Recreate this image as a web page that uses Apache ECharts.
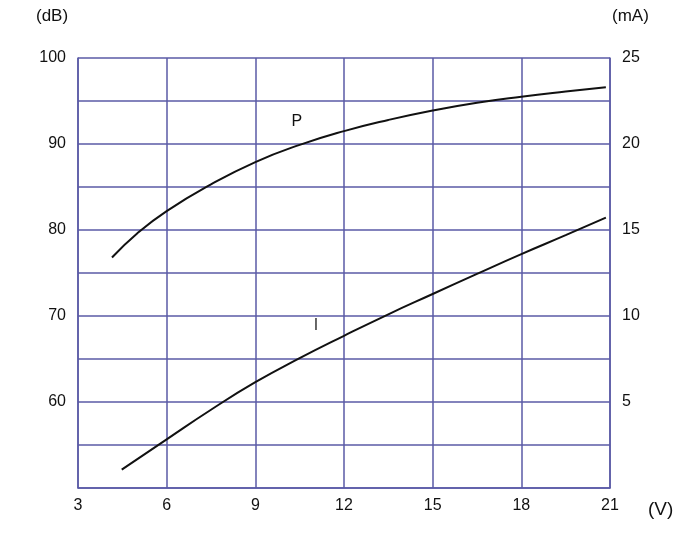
<!DOCTYPE html>
<html><head><meta charset="utf-8">
<script src="https://cdn.jsdelivr.net/npm/echarts@6/dist/echarts.min.js"></script>
<style>html,body{margin:0;padding:0;background:#fff}#c{width:695px;height:541px}</style>
</head><body><div id="c"></div>
<script>
// Voltage (V) ticks
const xTicks = [3, 6, 9, 12, 15, 18, 21];
const leftTickLabels = [60, 70, 80, 90, 100];   // dB
const rightTickLabels = [5, 10, 15, 20, 25];    // mA
// P curve: [V, dB]
const pCurve = [[4.15,76.8],[5,79.6],[6,82.2],[7.5,85.3],[9,87.9],[10.5,89.9],[12,91.5],[13.5,92.8],[15,93.9],[16.5,94.8],[18,95.5],[19.5,96.1],[20.86,96.6]];
// I curve: [V, mA]
const iCurve = [[4.48,1.07],[6,2.83],[7.5,4.55],[9,6.15],[10.5,7.55],[12,8.85],[13.5,10.1],[15,11.28],[16.5,12.45],[18,13.6],[19.5,14.7],[20.86,15.72]];

const gridColor = '#5a5aa6';
const font = 'Liberation Sans, Arial, sans-serif';
const chart = echarts.init(document.getElementById('c'));
chart.setOption({
  animation: false,
  backgroundColor: '#fff',
  grid: { left: 78, right: 85, top: 58, bottom: 53 },
  xAxis: {
    type: 'value', min: 3, max: 21, interval: 3,
    axisLine: { show: true, lineStyle: { color: gridColor, width: 1.5 } },
    axisTick: { show: false },
    splitLine: { show: true, lineStyle: { color: gridColor, width: 1.5 } },
    axisLabel: { color: '#111', fontSize: 16, fontFamily: font, margin: 10,
      formatter: v => xTicks.includes(v) ? String(v) : '' }
  },
  yAxis: [{
    type: 'value', min: 50, max: 100, interval: 5, position: 'left',
    axisLine: { show: true, lineStyle: { color: gridColor, width: 1.5 } },
    axisTick: { show: false },
    splitLine: { show: true, lineStyle: { color: gridColor, width: 1.5 } },
    axisLabel: { color: '#111', fontSize: 16, fontFamily: font, margin: 12,
      formatter: v => leftTickLabels.includes(v) ? String(v) : '' }
  }, {
    type: 'value', min: 0, max: 25, interval: 2.5, position: 'right',
    axisLine: { show: true, lineStyle: { color: gridColor, width: 1.5 } },
    axisTick: { show: false },
    splitLine: { show: false },
    axisLabel: { color: '#111', fontSize: 16, fontFamily: font, margin: 12,
      formatter: v => rightTickLabels.includes(v) ? String(v) : '' }
  }],
  graphic: [
    { type: 'text', left: 36, top: 8, style: { text: '(dB)', fontSize: 17, fontFamily: font, fill: '#111' } },
    { type: 'text', left: 612, top: 8, style: { text: '(mA)', fontSize: 17, fontFamily: font, fill: '#111' } },
    { type: 'text', left: 648, top: 500, style: { text: '(V)', fontSize: 19, fontFamily: font, fill: '#111' } }
  ],
  series: [{
    type: 'line', name: 'P', yAxisIndex: 0, data: pCurve, smooth: true, showSymbol: false,
    lineStyle: { color: '#111', width: 2 },
    markPoint: { symbol: 'circle', symbolSize: 0, data: [{ coord: [10.4, 92.6], value: 'P' }],
      label: { show: true, formatter: 'P', color: '#111', fontSize: 16, fontFamily: font } }
  }, {
    type: 'line', name: 'I', yAxisIndex: 1, data: iCurve, smooth: true, showSymbol: false,
    lineStyle: { color: '#111', width: 2 },
    markPoint: { symbol: 'circle', symbolSize: 0, data: [{ coord: [11.05, 9.45], value: 'I' }],
      label: { show: true, formatter: 'I', color: '#333', fontSize: 16, fontFamily: font } }
  }]
});
</script></body></html>
